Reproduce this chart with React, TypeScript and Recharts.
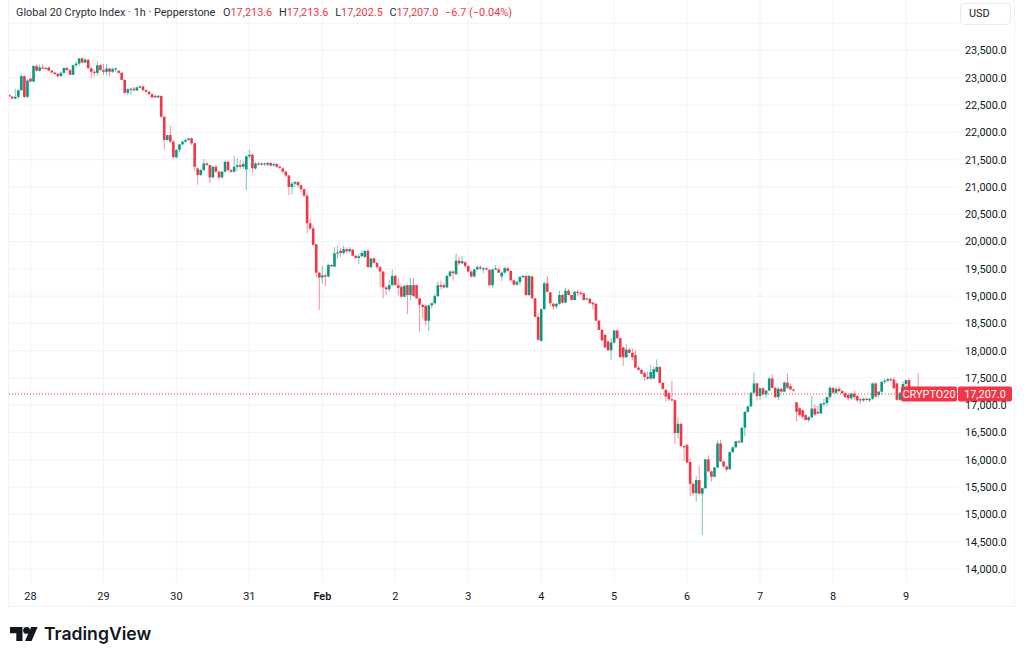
import { Bar, CartesianGrid, ComposedChart, ReferenceLine, XAxis, YAxis } from 'recharts';

type Candle = [number, number, number, number]; // open, high, low, close

const jan27: Candle[] = [
  [22685, 22700, 22650, 22655], [22655, 22670, 22610, 22620], [22620, 22800, 22610, 22650], [22650, 22790, 22610, 22770],
  [22770, 23060, 22770, 23030], [23030, 23040, 22630, 22650], [22650, 22980, 22630, 22950],
];
const jan28: Candle[] = [
  [22985, 23000, 22920, 22930], [22930, 23235, 22920, 23215], [23215, 23240, 23110, 23130], [23130, 23240, 23110, 23190],
  [23190, 23250, 23170, 23180], [23180, 23200, 23150, 23170], [23190, 23200, 23120, 23130], [23130, 23140, 23090, 23095],
  [23095, 23110, 23050, 23070], [23070, 23085, 23000, 23030], [23030, 23110, 23020, 23090], [23090, 23190, 23080, 23180],
  [23180, 23195, 23130, 23140], [23140, 23160, 23050, 23055], [23055, 23240, 23050, 23230], [23230, 23290, 23190, 23260],
  [23260, 23365, 23220, 23355], [23355, 23370, 23270, 23280], [23280, 23365, 23260, 23330], [23330, 23340, 23170, 23175],
  [23175, 23190, 23000, 23110], [23110, 23140, 23020, 23090], [23090, 23300, 23040, 23230], [23230, 23250, 23130, 23140],
];
const jan29: Candle[] = [
  [23140, 23250, 23050, 23110], [23110, 23250, 23040, 23170], [23170, 23190, 23020, 23110], [23110, 23190, 23090, 23160],
  [23160, 23190, 23110, 23170], [23130, 23140, 23080, 23090], [23090, 23110, 22950, 22960], [22960, 22975, 22700, 22725],
  [22725, 22810, 22680, 22790], [22790, 22820, 22690, 22800], [22800, 22830, 22750, 22770], [22770, 22840, 22760, 22825],
  [22825, 22860, 22810, 22840], [22840, 22860, 22760, 22775], [22775, 22790, 22730, 22745], [22745, 22755, 22690, 22700],
  [22700, 22715, 22630, 22640], [22670, 22690, 22630, 22640], [22640, 22680, 22620, 22670], [22665, 22680, 22275, 22285],
  [22285, 22300, 21690, 21860], [21860, 21950, 21850, 21950], [21950, 22115, 21810, 21830], [21830, 21850, 21530, 21545],
];
const jan30: Candle[] = [
  [21545, 21690, 21520, 21680], [21680, 21790, 21640, 21780], [21780, 21850, 21770, 21830], [21830, 21880, 21810, 21860],
  [21860, 21900, 21850, 21890], [21890, 21910, 21770, 21800], [21800, 21810, 21300, 21370], [21340, 21360, 21040, 21220],
  [21220, 21330, 21200, 21310], [21310, 21510, 21290, 21430], [21430, 21460, 21390, 21400], [21400, 21410, 21070, 21175],
  [21175, 21390, 21160, 21370], [21370, 21400, 21260, 21280], [21280, 21300, 21120, 21175], [21175, 21290, 21150, 21280],
  [21280, 21480, 21260, 21460], [21460, 21480, 21280, 21310], [21310, 21330, 21260, 21280], [21280, 21570, 21260, 21370],
  [21370, 21530, 21290, 21400], [21400, 21490, 21320, 21370], [21370, 21480, 21330, 21420], [21320, 21580, 20945, 21560],
];
const jan31: Candle[] = [
  [21560, 21680, 21530, 21590], [21590, 21610, 21260, 21340], [21340, 21460, 21310, 21430], [21430, 21460, 21390, 21420],
  [21420, 21450, 21390, 21430], [21430, 21450, 21390, 21410], [21410, 21460, 21380, 21440], [21440, 21450, 21380, 21390],
  [21400, 21440, 21370, 21420], [21420, 21430, 21350, 21370], [21370, 21400, 21330, 21360], [21340, 21370, 21250, 21280],
  [21280, 21300, 21180, 21210], [21210, 21220, 20850, 21000], [21000, 21090, 20860, 21060], [21060, 21110, 21010, 21090],
  [21090, 21110, 21000, 21030], [21030, 21040, 20910, 20960], [20960, 20970, 20810, 20840], [20840, 20860, 20150, 20335],
  [20335, 20420, 20210, 20240], [20240, 20290, 19920, 19940], [19950, 19960, 19350, 19430], [19430, 19450, 18745, 19340],
];
const feb1: Candle[] = [
  [19340, 19550, 19235, 19380], [19380, 19420, 19185, 19360], [19360, 19590, 19340, 19570], [19570, 19590, 19530, 19560],
  [19540, 19900, 19530, 19785], [19785, 19930, 19700, 19800], [19830, 19880, 19720, 19790], [19790, 19920, 19760, 19860],
  [19860, 19890, 19800, 19820], [19820, 19900, 19790, 19860], [19850, 19860, 19730, 19740], [19740, 19760, 19680, 19700],
  [19700, 19780, 19590, 19730], [19730, 19840, 19720, 19790], [19720, 19840, 19700, 19830], [19830, 19860, 19530, 19530],
  [19530, 19700, 19520, 19690], [19690, 19710, 19600, 19610], [19610, 19620, 19500, 19530], [19530, 19550, 19170, 19450],
  [19450, 19460, 18960, 19160], [19160, 19190, 19020, 19125], [19125, 19290, 19080, 19200], [19200, 19490, 19190, 19370],
];
const feb2: Candle[] = [
  [19370, 19390, 19190, 19205], [19200, 19330, 19020, 19150], [19170, 19200, 18970, 18990], [18990, 19200, 18980, 19190],
  [19200, 19210, 18670, 19020], [19020, 19340, 18930, 19200], [19200, 19330, 18990, 19000], [19200, 19210, 18950, 18960],
  [18960, 18970, 18350, 18840], [18840, 18860, 18600, 18800], [18820, 18830, 18460, 18550], [18550, 18840, 18360, 18830],
  [18830, 18880, 18780, 18870], [18870, 19040, 18840, 19000], [19000, 19270, 18980, 19200], [19200, 19280, 19120, 19170],
  [19200, 19240, 19140, 19160], [19160, 19390, 19140, 19370], [19370, 19470, 19340, 19450], [19450, 19470, 19280, 19420],
  [19400, 19780, 19390, 19650], [19650, 19720, 19560, 19600], [19600, 19740, 19580, 19640], [19620, 19640, 19520, 19550],
];
const feb3: Candle[] = [
  [19550, 19570, 19430, 19450], [19450, 19470, 19340, 19360], [19360, 19500, 19340, 19490], [19490, 19560, 19470, 19530],
  [19530, 19560, 19480, 19510], [19490, 19530, 19420, 19510], [19510, 19530, 19470, 19500], [19480, 19500, 19190, 19200],
  [19200, 19500, 19160, 19490], [19490, 19570, 19470, 19510], [19490, 19520, 19420, 19430], [19360, 19450, 19280, 19430],
  [19430, 19540, 19410, 19510], [19510, 19530, 19450, 19460], [19460, 19480, 19270, 19290], [19290, 19300, 19190, 19210],
  [19210, 19280, 19190, 19260], [19260, 19370, 19200, 19350], [19350, 19390, 19330, 19370], [19370, 19390, 19010, 19020],
  [19020, 19390, 19000, 19370], [19360, 19380, 18950, 18960], [18960, 18970, 18610, 18620], [18620, 18680, 18190, 18200],
];
const feb4: Candle[] = [
  [18180, 18770, 18160, 18760], [18760, 19265, 18750, 19235], [19235, 19370, 19070, 19080], [19070, 19070, 18820, 18870],
  [18860, 18880, 18750, 18810], [18810, 18870, 18770, 18860], [18860, 19100, 18840, 19020], [19020, 19040, 18860, 18880],
  [18880, 19150, 18870, 19100], [19100, 19130, 19010, 19020], [19020, 19030, 18920, 18930], [18930, 19090, 18920, 19080],
  [19080, 19120, 19000, 19060], [19060, 19100, 19020, 19050], [19050, 19060, 18920, 18930], [18950, 18970, 18930, 18960],
  [18950, 18970, 18860, 18870], [18880, 18900, 18760, 18850], [18860, 18880, 18550, 18550], [18550, 18570, 18380, 18380],
  [18380, 18400, 18180, 18190], [18290, 18310, 18060, 18060], [18170, 18190, 18000, 18010], [18010, 18230, 17830, 18150],
];
const feb5: Candle[] = [
  [18150, 18380, 18130, 18370], [18370, 18390, 18220, 18230], [18230, 18240, 17880, 17880], [18060, 18070, 17720, 17880],
  [17880, 18130, 17860, 18020], [18020, 18050, 17950, 17960], [17960, 18040, 17830, 17880], [17920, 18010, 17690, 17690],
  [17690, 17720, 17640, 17650], [17650, 17670, 17570, 17580], [17590, 17610, 17450, 17520], [17520, 17620, 17460, 17490],
  [17490, 17740, 17470, 17610], [17490, 17710, 17480, 17660], [17610, 17840, 17600, 17700], [17700, 17720, 17400, 17410],
  [17410, 17430, 17280, 17300], [17280, 17300, 17070, 17160], [17220, 17250, 17080, 17110], [17110, 17450, 17080, 17095],
  [17095, 17110, 16290, 16490], [16490, 16780, 16390, 16660], [16660, 16680, 16250, 16250], [16250, 16270, 15980, 16240],
];
const feb6: Candle[] = [
  [16270, 16290, 15950, 15950], [15960, 16030, 15340, 15560], [15560, 15590, 15340, 15390], [15390, 15700, 15230, 15630],
  [15630, 15890, 15370, 15380], [15380, 15490, 14625, 15480], [15480, 16020, 15470, 16010], [16010, 16080, 15780, 15790],
  [15790, 15800, 15600, 15690], [15690, 15870, 15680, 15860], [15860, 16360, 15850, 16300], [16300, 16370, 15960, 15970],
  [15970, 15990, 15860, 15880], [15880, 15900, 15790, 15820], [15830, 16160, 15820, 16140], [16140, 16240, 16130, 16230],
  [16230, 16350, 16210, 16340], [16340, 16360, 16310, 16320], [16320, 16590, 16310, 16590], [16590, 16890, 16430, 16880],
  [16880, 16990, 16870, 16980], [16980, 17240, 16960, 17230], [17230, 17600, 17220, 17400], [17400, 17420, 17090, 17170],
];
const feb7: Candle[] = [
  [17170, 17330, 17100, 17310], [17310, 17330, 17190, 17200], [17200, 17280, 17130, 17270], [17270, 17520, 17260, 17490],
  [17490, 17570, 17310, 17320], [17320, 17340, 17130, 17150], [17150, 17330, 17100, 17300], [17300, 17320, 17230, 17250],
  [17250, 17440, 17240, 17415], [17415, 17580, 17300, 17320], [17350, 17400, 17280, 17290], [17290, 17310, 17250, 17270],
  [17055, 17060, 16700, 16880], [16945, 16960, 16790, 16820], [16910, 16930, 16750, 16790], [16820, 16840, 16720, 16730],
  [16730, 16800, 16690, 16780], [16780, 17170, 16760, 16940], [16940, 17020, 16810, 16830], [16880, 16990, 16840, 16850],
  [16850, 17040, 16840, 17030], [17030, 17120, 16970, 17040], [17040, 17160, 16990, 17150], [17150, 17350, 17100, 17320],
];
const feb8: Candle[] = [
  [17320, 17330, 17210, 17230], [17230, 17340, 17210, 17300], [17300, 17340, 17240, 17260], [17260, 17280, 17210, 17220],
  [17220, 17240, 17130, 17150], [17190, 17230, 17090, 17130], [17130, 17240, 17090, 17210], [17210, 17260, 17110, 17150],
  [17170, 17190, 17060, 17090], [17110, 17130, 17030, 17090], [17090, 17140, 17060, 17120], [17120, 17140, 17080, 17100],
  [17090, 17130, 17060, 17120], [17120, 17420, 17100, 17400], [17400, 17420, 17150, 17160], [17190, 17260, 17150, 17250],
  [17250, 17440, 17200, 17430], [17430, 17480, 17390, 17450], [17450, 17500, 17420, 17480], [17480, 17510, 17440, 17470],
  [17470, 17510, 17300, 17310], [17400, 17420, 17080, 17100], [17100, 17250, 17080, 17230], [17230, 17440, 17200, 17390],
];
const feb9: Candle[] = [
  [17390, 17470, 17350, 17460], [17460, 17490, 17100, 17210], [17210, 17240, 17190, 17200], [17210, 17230, 17190, 17205],
  [17213.6, 17590, 17180, 17207],
];

const candles = [...jan27, ...jan28, ...jan29, ...jan30, ...jan31, ...feb1, ...feb2, ...feb3, ...feb4, ...feb5, ...feb6, ...feb7, ...feb8, ...feb9];

const dayLabels = ['28', '29', '30', '31', 'Feb', '2', '3', '4', '5', '6', '7', '8', '9'];
const dayHours = [0, 24, 48, 72, 96, 120, 144, 168, 192, 216, 240, 264, 288];
const priceTicks = [23500, 23000, 22500, 22000, 21500, 21000, 20500, 20000, 19500, 19000, 18500, 18000, 17500, 17000, 16500, 16000, 15500, 15000, 14500, 14000];
const gridPrices = [24000, ...priceTicks];
const lastPrice = 17207;
const firstHour = -7;

const UP = '#089981';
const DOWN = '#F23645';
const GRID = '#F2F3F5';
const INK = '#131722';
const FONT = 'Roboto, sans-serif';
const TEXT_SIZE = 10.9;

const table = candles.map(([open, high, low, close], i) => ({
  hour: firstHour + i,
  open,
  close,
  high: Math.max(open, high, close),
  low: Math.min(open, low, close),
}));

const money = (v: number) => v.toLocaleString('en-US', { minimumFractionDigits: 1, maximumFractionDigits: 1 });

function CandleShape(props: any) {
  const { x, y, width, height, payload } = props;
  const { open, close, high, low } = payload;
  const color = close >= open ? UP : DOWN;
  const perPrice = height / (high - low);
  const top = y + (high - Math.max(open, close)) * perPrice;
  const bodyH = Math.max(Math.abs(open - close) * perPrice, 1.2);
  const mid = x + width / 2;
  return (
    <g>
      <rect x={mid - 0.5} y={y} width={1} height={height} fill={color} opacity={0.55} />
      <rect x={mid - 1.3} y={top} width={2.6} height={bodyH} fill={color} />
    </g>
  );
}

function DayTick({ x, y, payload }: any) {
  const label = dayLabels[dayHours.indexOf(payload.value)];
  const isMonth = label === 'Feb';
  return (
    <text x={x} y={y + 9} textAnchor="middle" fontFamily={FONT} fontSize={TEXT_SIZE} fontWeight={isMonth ? 600 : 400} fill={INK}>
      {label}
    </text>
  );
}

function LastPriceTag({ viewBox }: any) {
  const cy = viewBox.y;
  return (
    <g fontFamily={FONT} fontSize={TEXT_SIZE} fill="#fff">
      <rect x={901} y={cy - 7.5} width={56} height={15} rx={2} fill={DOWN} />
      <text x={929} y={cy + 3.9} textAnchor="middle">CRYPTO20</text>
      <rect x={958} y={cy - 7.5} width={54} height={15} rx={2} fill={DOWN} />
      <text x={985} y={cy + 3.9} textAnchor="middle">{money(lastPrice)}</text>
    </g>
  );
}

function Logo() {
  return (
    <svg width={30} height={16} viewBox="0 0 30 16" style={{ position: 'absolute', left: 9, top: 626 }}>
      <path d="M1 1h12.5v14h-6.2V7.2H1z" fill={INK} />
      <circle cx={17.6} cy={4.4} r={3.4} fill={INK} />
      <path d="M22.2 1h6.4l-6 14h-6.6z" fill={INK} />
    </svg>
  );
}

export default function App() {
  return (
    <div style={{ position: 'absolute', left: 0, top: 0, width: 1024, height: 661, background: '#fff', overflow: 'hidden' }}>
      <ComposedChart
        width={1024}
        height={661}
        data={table}
        margin={{ top: 0, right: 0, bottom: 0, left: 8 }}
        barCategoryGap={0}
      >
        <CartesianGrid stroke={GRID} horizontalValues={gridPrices} verticalValues={dayHours} />
        <XAxis
          dataKey="hour"
          type="number"
          scale="linear"
          domain={[-7.401, 305.1]}
          allowDataOverflow
          ticks={dayHours}
          tick={<DayTick />}
          axisLine={false}
          tickLine={false}
          height={78}
          interval={0}
        />
        <YAxis
          orientation="right"
          type="number"
          domain={[13744, 24425]}
          allowDataOverflow
          ticks={priceTicks}
          tickFormatter={money}
          axisLine={false}
          tickLine={false}
          tickSize={0}
          tickMargin={7}
          width={66}
          interval={0}
          tick={{ fontFamily: FONT, fontSize: TEXT_SIZE, fill: INK }}
        />
        <Bar dataKey={(d: any) => [d.low, d.high]} shape={<CandleShape />} barSize={3} isAnimationActive={false} />
        <ReferenceLine y={lastPrice} stroke={DOWN} strokeDasharray="1 2" label={<LastPriceTag />} ifOverflow="visible" />
      </ComposedChart>

      <div style={{ position: 'absolute', left: 8, top: 0, width: 1007, height: 607, borderLeft: `1px solid ${GRID}`, borderRight: `1px solid ${GRID}`, borderBottom: `1px solid ${GRID}`, boxSizing: 'border-box', pointerEvents: 'none' }} />

      <div style={{ position: 'absolute', left: 16, top: 4, fontFamily: FONT, fontSize: TEXT_SIZE, lineHeight: '17px', color: '#2A2E39', whiteSpace: 'nowrap' }}>
        Global 20 Crypto Index · 1h · Pepperstone
      </div>
      <div style={{ position: 'absolute', left: 223, top: 4, fontFamily: FONT, fontSize: TEXT_SIZE, lineHeight: '17px', color: DOWN, whiteSpace: 'nowrap' }}>
        <span style={{ color: '#2A2E39' }}>O</span>17,213.6 <span style={{ color: '#2A2E39', marginLeft: 4 }}>H</span>17,213.6 <span style={{ color: '#2A2E39', marginLeft: 4 }}>L</span>17,202.5 <span style={{ color: '#2A2E39', marginLeft: 4 }}>C</span>17,207.0 <span style={{ marginLeft: 4 }}>−6.7 (−0.04%)</span>
      </div>

      <div style={{ position: 'absolute', left: 960, top: 3, width: 51, height: 22, border: '1px solid #E8EAF0', borderRadius: 4, boxSizing: 'border-box', background: '#fff', fontFamily: FONT, fontSize: TEXT_SIZE, lineHeight: '20px', color: INK, paddingLeft: 8 }}>
        USD
      </div>

      <Logo />
      <div style={{ position: 'absolute', left: 44, top: 622, fontFamily: 'Inter, sans-serif', fontWeight: 600, fontSize: 17.6, lineHeight: '24px', color: INK, whiteSpace: 'nowrap' }}>
        TradingView
      </div>
    </div>
  );
}
